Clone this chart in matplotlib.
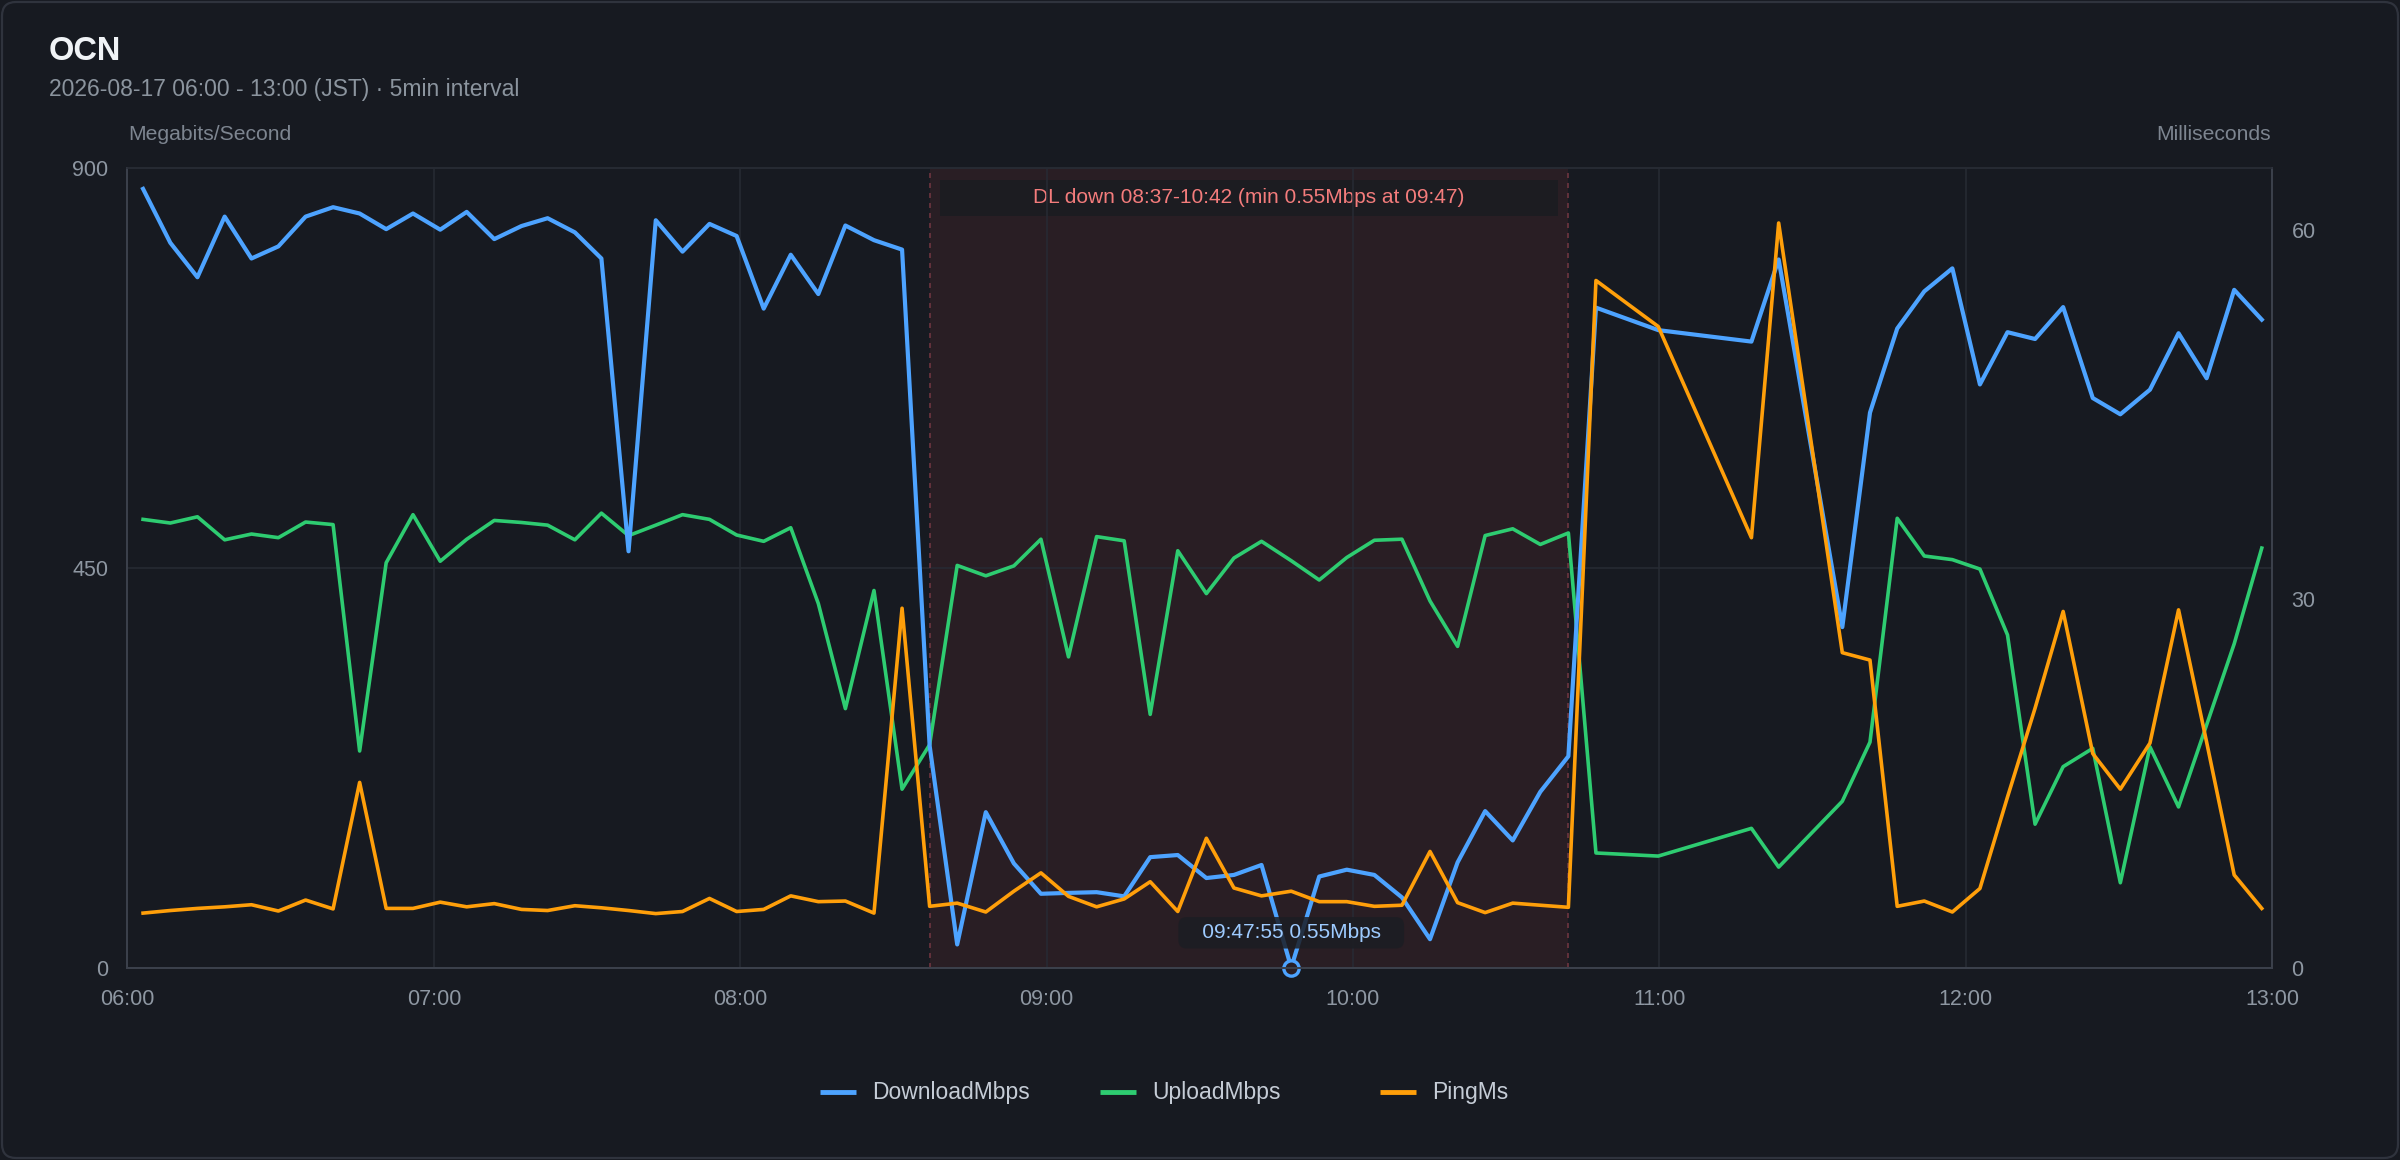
import numpy as np
import pandas as pd
import matplotlib
matplotlib.use("Agg")
import matplotlib.pyplot as plt
import matplotlib.dates as mdates
import matplotlib.transforms as mtransforms
from matplotlib.lines import Line2D
from matplotlib.patches import FancyBboxPatch, Rectangle

plt.rcParams['font.family'] = ['Liberation Sans', 'DejaVu Sans']

# data
day = "2026-08-17"
times = ["06:03:03", "06:08:23", "06:13:42", "06:19:02", "06:24:17", "06:29:33", "06:34:53",
         "06:40:16", "06:45:28", "06:50:40", "06:55:55", "07:01:15", "07:06:26", "07:11:50",
         "07:17:10", "07:22:17", "07:27:37", "07:32:49", "07:38:08", "07:43:28", "07:48:42",
         "07:53:59", "07:59:18", "08:04:36", "08:09:54", "08:15:18", "08:20:36", "08:26:12",
         "08:31:42", "08:37:06", "08:42:30", "08:48:06", "08:53:36", "08:58:54", "09:04:18",
         "09:09:48", "09:15:12", "09:20:18", "09:25:42", "09:31:18", "09:36:42", "09:42:06",
         "09:47:55", "09:53:24", "09:58:48", "10:04:12", "10:09:36", "10:15:06", "10:20:30",
         "10:25:54", "10:31:18", "10:36:42", "10:42:12", "10:47:36", "10:59:48", "11:18:03",
         "11:23:23", "11:35:51", "11:41:16", "11:46:36", "11:51:54", "11:57:24", "12:02:48",
         "12:08:12", "12:13:36", "12:19:06", "12:24:54", "12:30:18", "12:36:06", "12:41:42",
         "12:47:12", "12:52:36", "12:58:00"]
download_mbps = [876.5, 815.9, 777.1, 845.3, 798.2, 811.8, 845.3, 855.9, 848.8, 831.2,
                 848.8, 830.6, 850.6, 820.0, 834.7, 843.5, 827.6, 798.2, 468.8, 841.2,
                 805.9, 837.1, 823.5, 741.8, 802.4, 758.2, 835.3, 818.8, 808.2,
                 250.0, 26.5, 175.3, 117.6, 83.5, 84.5, 85.3, 80.6, 124.7, 127.1,
                 101.2, 104.7, 115.9, 0.55, 102.9, 110.6, 104.7, 79.4, 32.4, 118.8,
                 176.5, 143.5, 198.2, 238.2,
                 742.9, 717.6, 704.7, 797.1, 383.5, 624.7, 719.4, 761.2, 787.1, 656.5,
                 715.3, 707.6, 743.5, 641.2, 622.9, 650.6, 714.1, 663.5, 762.9, 729.4]
upload_mbps = [504.7, 500.6, 507.6, 481.7, 488.2, 484.1, 501.7, 498.8, 244.1, 455.9,
               510.0, 457.6, 482.3, 503.5, 501.2, 498.2, 481.7, 511.7, 486.4, 498.2,
               510.0, 504.7, 487.1, 480.0, 495.3, 410.0, 291.8, 424.7, 201.2,
               251.2, 452.9, 441.2, 452.4, 482.4, 350.0, 485.3, 480.6, 285.3, 469.4,
               421.2, 461.2, 480.0, 458.2, 436.5, 461.8, 481.2, 482.4, 412.9, 361.8,
               486.5, 494.1, 476.5, 489.4,
               129.4, 125.9, 157.1, 113.5, 187.6, 254.1, 505.9, 463.5, 459.4, 448.8,
               374.7, 161.8, 226.5, 247.1, 95.9, 248.8, 181.2, 273.5, 364.7, 472.4]
ping_ms = [4.46, 4.67, 4.84, 4.97, 5.14, 4.63, 5.52, 4.80, 15.08, 4.84,
           4.84, 5.35, 4.97, 5.23, 4.76, 4.67, 5.06, 4.89, 4.67, 4.42,
           4.59, 5.65, 4.59, 4.76, 5.86, 5.39, 5.44, 4.46, 29.23,
           5.01, 5.27, 4.55, 6.24, 7.73, 5.82, 4.97, 5.61, 7.01, 4.59,
           10.54, 6.50, 5.86, 6.24, 5.39, 5.39, 5.01, 5.10, 9.47, 5.31,
           4.50, 5.27, 5.10, 4.93,
           55.86, 52.12, 34.96, 60.53, 25.62, 25.02, 5.01, 5.44, 4.55, 6.46,
           13.89, 21.11, 28.97, 17.42, 14.53, 18.27, 29.10, 18.35, 7.56, 4.84]
series_names = ["DownloadMbps", "UploadMbps", "PingMs"]
mbps_ticks = [0, 450, 900]
ms_ticks = [0, 30, 60]
ms_max = 65
down_threshold = 300

# colours
bg = '#171a21'
shade = '#291e24'
grid_c = '#272b34'
spine_c = '#3c414c'
tick_c = '#8e97a2'
colors = ['#4da3ff', '#2ecc71', '#ff9f0a']

ts = pd.to_datetime([day + " " + t for t in times])
dl = np.array(download_mbps)
down_idx = np.where(dl < down_threshold)[0]
down_start = ts[down_idx[0]]
down_end = ts[down_idx[-1]]
imin = int(np.argmin(dl))

fig = plt.figure(figsize=(24, 11.6), dpi=100)
fig.patch.set_facecolor(bg)
card = FancyBboxPatch((2, 2), 2396, 1156, boxstyle='round,pad=0,rounding_size=14',
                      transform=mtransforms.IdentityTransform(), fc=bg, ec='#2f333d', lw=1.6,
                      zorder=-10)
fig.add_artist(card)

ax = fig.add_axes([0.05312, 0.16552, 0.89354, 0.68966])
ax.set_facecolor(bg)
ax2 = ax.twinx()

# outage band
ax.axvspan(down_start, down_end, color=shade, lw=0, zorder=0.3)
for t in (down_start, down_end):
    ax.axvline(t, color='#6e3540', ls=(0, (3, 3)), lw=1.2, zorder=0.6)

ax.set_axisbelow(True)
ax.grid(True, color=grid_c, lw=1.1)

ax.plot(ts, upload_mbps, color=colors[1], lw=2.6, zorder=2.8)
ax.plot(ts, download_mbps, color=colors[0], lw=3.0, zorder=3)
ax2.plot(ts, ping_ms, color=colors[2], lw=2.6)

# min marker + label
ax.plot(ts[imin], dl[imin], 'o', ms=11, mfc=shade, mec=colors[0], mew=2.4,
        zorder=5, clip_on=False)
ax.annotate("   %s %.2fMbps   " % (ts[imin].strftime("%H:%M:%S"), dl[imin]),
            xy=(ts[imin], dl[imin]), xytext=(0, 25), textcoords='offset points',
            ha='center', va='center', fontsize=15, color='#9ecbff', zorder=6,
            bbox=dict(boxstyle='round,pad=0.3,rounding_size=0.4', fc='#1c1d23',
                      ec='none', alpha=0.85))

# outage caption
blend = mtransforms.blended_transform_factory(ax.transData, ax.transAxes)
x0 = mdates.date2num(down_start) + 2 / 1440
x1 = mdates.date2num(down_end) - 2 / 1440
ax.add_patch(Rectangle((x0, 0.94), x1 - x0, 0.045, transform=blend,
                       fc='#1c1c21', ec='none', zorder=0.4))
caption = "DL down %s-%s (min %.2fMbps at %s)" % (
    down_start.strftime("%H:%M"), down_end.strftime("%H:%M"), dl[imin], ts[imin].strftime("%H:%M"))
ax.text((x0 + x1) / 2, 0.9625, caption, transform=blend, ha='center', va='center',
        fontsize=15, color='#f47c7c', zorder=0.45)

# axes
ax.set_xlim(pd.Timestamp(day + " 06:00"), pd.Timestamp(day + " 13:00"))
ax.xaxis.set_major_locator(mdates.HourLocator())
ax.xaxis.set_major_formatter(mdates.DateFormatter('%H:%M'))
ax.set_ylim(0, max(mbps_ticks))
ax.set_yticks(mbps_ticks)
ax2.set_ylim(0, ms_max)
ax2.set_yticks(ms_ticks)
ax.tick_params(axis='x', length=0, pad=15, labelsize=15.5, colors=tick_c)
ax.tick_params(axis='y', length=0, pad=14, labelsize=15.5, colors=tick_c)
ax2.tick_params(axis='y', length=0, pad=14, labelsize=15.5, colors=tick_c)
for a in (ax, ax2):
    for side in ('left', 'bottom', 'right'):
        a.spines[side].set_color(spine_c)
        a.spines[side].set_linewidth(1.4)
    a.spines['top'].set_color(grid_c)
    a.spines['top'].set_linewidth(1.1)

# header
fig.text(49 / 2400, 1 - 60 / 1160, "OCN", fontsize=23.5, fontweight='bold',
         color='#f0f3f6', va='baseline')
fig.text(49 / 2400, 1 - 96 / 1160, "2026-08-17 06:00 - 13:00 (JST) · 5min interval",
         fontsize=16.5, color='#8b949e', va='baseline')
fig.text(128 / 2400, 1 - 140 / 1160, "Megabits/Second", fontsize=15.2,
         color='#7d8590', va='baseline')
fig.text(2271 / 2400, 1 - 140 / 1160, "Milliseconds", fontsize=15.2,
         color='#7d8590', va='baseline', ha='right')

# legend
leg_y = 1 - 1092 / 1160
for i, name in enumerate(series_names):
    lx = (820 + 280 * i) / 2400
    fig.add_artist(Line2D([lx, lx + 36 / 2400], [leg_y, leg_y], transform=fig.transFigure,
                          color=colors[i], lw=3.5, solid_capstyle='butt'))
    fig.text(lx + 52 / 2400, leg_y, name, fontsize=16.5, color='#c5ccd6', va='center')

fig.savefig('out.png', dpi=100, facecolor=fig.get_facecolor())
